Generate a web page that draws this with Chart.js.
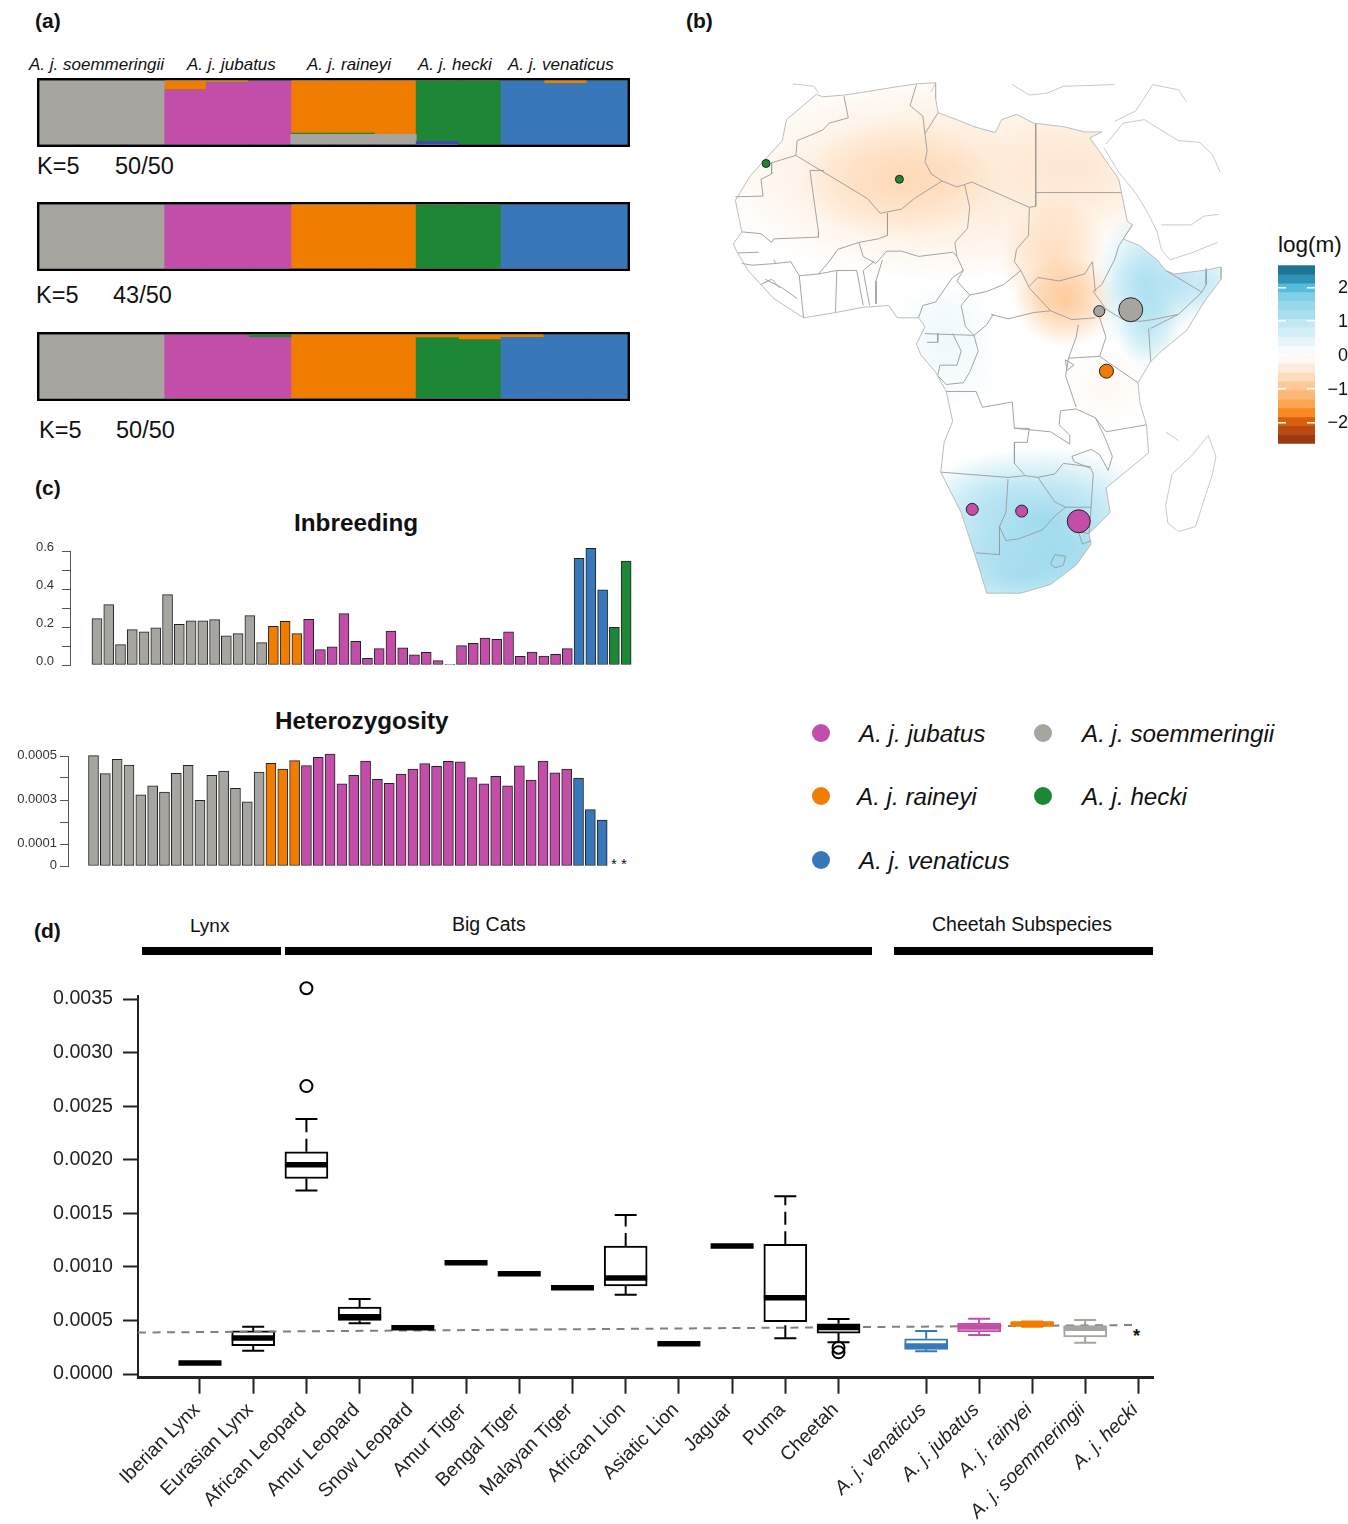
<!DOCTYPE html>
<html><head><meta charset="utf-8">
<script src="https://cdn.jsdelivr.net/npm/chart.js@4/dist/chart.umd.min.js"></script>
<style>
html,body{margin:0;padding:0;background:#fff}
body{position:relative;width:1348px;height:1524px;overflow:hidden;font-family:"Liberation Sans",Arial,sans-serif;color:#111}
canvas{position:absolute;display:block}
.t{position:absolute;white-space:nowrap;transform:translateY(-50%);line-height:1}
.bar,.dot{position:absolute}
.dot{border-radius:50%}
</style></head><body>
<script>
// ---------- colours
const GRAY='#a6a5a0',MAG='#c34ea9',ORG='#f07c00',GRN='#1e8735',BLU='#3878ba',DBL='#3a4cab';

// ---------- panel (a) structure plots: 14 sampled units
const unitPos=[21.2,63.5,105.8,148.2,190.5,232.8,274.8,316.5,358.2,400.2,442.8,485.5,528.5,571.5];
const run1Gray   =[1,1,1,0,0,0,.16,.16,.16,0,0,0,0,0];
const run1Magenta=[0,0,0,.85,.96,1,0,0,0,0,0,0,0,0];
const run1Orange =[0,0,0,.15,.04,0,.82,.82,.84,0,0,0,.05,0];
const run1Green  =[0,0,0,0,0,0,.02,.02,0,.95,1,0,0,0];
const run1Blue   =[0,0,0,0,0,0,0,0,0,0,0,1,.95,1];
const run1Navy   =[0,0,0,0,0,0,0,0,0,.05,0,0,0,0];
const run2Gray   =[1,1,1,0,0,0,0,0,0,0,0,0,0,0];
const run2Magenta=[0,0,0,1,1,1,0,0,0,0,0,0,0,0];
const run2Orange =[0,0,0,0,0,0,1,1,1,0,0,0,0,0];
const run2Green  =[0,0,0,0,0,0,0,0,0,1,1,0,0,0];
const run2Blue   =[0,0,0,0,0,0,0,0,0,0,0,1,1,1];
const run3Gray   =[1,1,1,0,0,0,0,0,0,0,0,0,0,0];
const run3Magenta=[0,0,0,1,1,.95,0,0,0,0,0,0,0,0];
const run3Orange =[0,0,0,0,0,0,1,1,1,.05,.08,.05,0,0];
const run3Green  =[0,0,0,0,0,.05,0,0,0,.95,.92,0,0,0];
const run3Blue   =[0,0,0,0,0,0,0,0,0,0,0,.95,1,1];

// ---------- panel (c)
const inbreedGray=[.244,.318,.107,.186,.175,.196,.37,.214,.233,.232,.239,.154,.165,.26,.118];
const inbreedOrange=[.204,.23,.165];
const inbreedMagenta=[.24,.081,.095,.27,.125,.035,.086,.179,.091,.053,.067,.023,.002,.102,.114,.142,.135,.175,.046,.068,.047,.056,.086];
const inbreedBlue=[.561,.614,.396];
const inbreedGreen=[.198,.547];
const hetGray=[.000502,.00042,.000485,.000459,.000323,.000364,.000336,.000421,.000458,.000298,.000412,.000432,.000353,.000292,.000427];
const hetOrange=[.000467,.000441,.000479];
const hetMagenta=[.000456,.000494,.000509,.000373,.000412,.000477,.000394,.000376,.000418,.000441,.000465,.000453,.000476,.000473,.000402,.000373,.000408,.000364,.000455,.000391,.000477,.000423,.000441];
const hetBlue=[.0004,.000256,.000209];

// ---------- panel (d)
const boxNames=['Iberian Lynx','Eurasian Lynx','African Leopard','Amur Leopard','Snow Leopard','Amur Tiger','Bengal Tiger','Malayan Tiger','African Lion','Asiatic Lion','Jaguar','Puma','Cheetah','A. j. venaticus','A. j. jubatus','A. j. rainyei','A. j. soemmeringii','A. j. hecki'];
const boxPos=[1,2,3,4,5,6,7,8,9,10,11,12,13,14.647,15.643,16.64,17.635,18.63];
const boxLow =[.000103,.000217,.001713,.000473,.000432,.001038,.000936,.000805,.00074,.000283,.001194,.000333,.000296,.000212,.000364,.00044,.000292,null];
const boxQ1  =[.000103,.000264,.001825,.0005,.000432,.001038,.000936,.000805,.000821,.000283,.001194,.000488,.000382,.00023,.000392,.00045,.000345,null];
const boxMed =[.000103,.000336,.001952,.000535,.000432,.001038,.000936,.000805,.000896,.000283,.001194,.000712,.000435,.000262,.000438,.000466,.000426,null];
const boxQ3  =[.000103,.000404,.002074,.000625,.000432,.001038,.000936,.000805,.001194,.000283,.001194,.00121,.000469,.000329,.000476,.00048,.00045,null];
const boxHigh=[.000103,.000441,.002379,.0007,.000432,.001038,.000936,.000805,.001483,.000283,.001194,.00166,.000513,.000401,.000516,.00049,.000504,null];
const boxColors=['#000','#000','#000','#000','#000','#000','#000','#000','#000','#000','#000','#000','#000',BLU,MAG,ORG,GRAY,GRAY];
const outlierPos=[3,3,13,13];
const outlierVal=[.0036,.002687,.000245,.000202];
const meanLineX=[-.165,18.55];
const meanLineY=[.000387,.000457];

// ---------- panel (b) colour key
const bandEdges=[2.65,2.39,2.12,1.86,1.6,1.33,1.07,.81,.54,.28,.01,-.25,-.52,-.78,-1.04,-1.31,-1.57,-1.84,-2.1,-2.36,-2.63];
const bandColors=['#1f7596','#3093b5','#55bddc','#82d0e8','#97d8ec','#a9e0f0','#c2e8f6','#d2eff9','#e6f5fb','#f6fbfd','#fff9f3','#fdecdb','#fddcbc','#fdc898','#fdb877','#fca552','#f78a22','#da5f0c','#b94a14','#9b3a12'];

// ---------- panel (b) samples (map units)
const sampleX=[984,1058,1001,686,802,936,202,515];
const sampleY=[716,712,887,1281,1286,1315,295,340];
const sampleSize=[5.5,12,7,6,6,11.5,4,4];
const sampleColor=[GRAY,GRAY,ORG,MAG,MAG,MAG,GRN,GRN];

// ---------- panel (b) estimated surface
const blobX =[620,510,960,880,905,1090,1160,1100,850,800,700,620,640,1000,930,1230];
const blobY =[330,340,300,570,690,640,640,770,1310,1470,1290,760,880,930,1400,640];
const blobRX=[560,230,200,130,120,115,160,70,290,300,150,130,120,110,130,90];
const blobRY=[300,170,220,180,130,220,130,120,210,150,170,130,120,120,120,90];
const blobHot=[1,1,1,1,1,0,0,0,0,0,0,0,0,1,0,0];
const blobA =[.38,.38,.22,.5,.75,.6,.42,.35,.85,.75,.25,.14,.1,.1,.35,.3];

// ---------- panel (b) outlines (map units)
const coast=[320,98,335,105,385,100,440,90,500,78,555,68,600,65,600,110,606,150,650,170,690,190,740,207,755,170,790,155,830,180,900,190,950,205,990,205,962,222,990,270,1030,340,1040,400,1050,460,1062,470,1040,510,1080,530,1120,570,1140,600,1160,610,1230,600,1270,590,1270,625,1230,690,1190,770,1130,830,1105,860,1075,920,1080,980,1095,1040,1100,1120,1050,1170,1000,1220,1010,1290,960,1350,965,1380,930,1440,870,1495,800,1520,720,1520,700,1440,660,1290,612,1175,620,1090,640,1030,625,945,600,890,565,840,555,810,575,760,560,735,510,735,490,700,430,705,365,720,290,735,220,680,160,600,135,550,125,525,145,490,130,400,165,330,240,230,250,170];
const madagascar=[1240,1070,1258,1130,1250,1180,1210,1330,1170,1345,1145,1320,1140,1270,1155,1180,1200,1130,1240,1070];
const arabia=[[995,250,1030,320,1070,380,1100,440,1120,490,1130,540,1150,570,1200,550,1262,520],[1130,470,1200,470,1230,445,1265,440],[1000,240,1040,180,1090,170,1170,230,1220,235,1250,270,1268,320],[1020,175,1070,145,1110,70,1170,85,1190,120],[780,70,820,100,860,95,900,75,1020,70],[265,68,315,75,325,95],[1140,1060,1170,1085],[600,65,590,90]];
const borders=[
[385,103,395,165,350,180,335,200,275,230,272,272,215,293,215,325,190,340,195,388,130,390],[272,272,440,395,470,437,520,425,550,395,615,345,650,362,668,355,685,348,820,420],
[305,315,338,315],[305,315,325,490,325,505,220,510,215,520,190,495,145,490],
[555,70,540,130,570,160,575,210,580,260,575,290,590,325,615,345],[606,150,575,210],
[835,180,835,417,820,420,818,500,790,540,785,575,800,600,820,650],[835,378,1035,378],
[820,645,840,620,890,630,950,610,968,575,975,660],[1062,470,1030,530,1020,570,990,640,970,660,1000,710],
[668,355,680,420,675,480,645,520,650,560,665,600,650,630,680,670,720,660,760,640,800,600],[680,670,660,700,670,760,690,785],
[730,725,770,738,830,720,870,715,920,740,975,735],[820,650,870,715],[935,755,930,790,912,850,905,900,930,990],
[1000,710,985,735,1000,790,985,845,1075,920],[912,850,985,845],[1000,710,1040,740,1080,745,1110,740,1170,725],[1100,765,1105,860],
[1140,600,1225,662,1170,725,1105,765],[1235,595,1235,640,1225,662],
[487,437,487,500,465,510,420,520,370,540,350,575,325,610],[420,520,430,560,460,580,485,545,520,545,560,560,640,548,650,560],
[475,570,460,630,460,695],[430,600,445,700],[415,600,430,700],[368,600,415,600],[368,600,365,720],[325,610,368,600],[455,575,430,600],
[280,615,325,610],[280,615,290,735],[200,625,240,650,275,680],[190,640,215,625,235,650],[220,570,225,580,260,575,280,615],[135,550,185,548],[145,580,170,585,225,580],
[665,600,640,620,600,690,570,700,560,735],[575,780,690,785],[605,780,605,805,580,805],[640,780,660,830,650,870,610,870,605,900,625,925],
[690,785,720,755,735,725],[690,785,700,830,680,890,665,920,625,925],
[625,945,695,945,710,990,780,975,785,1050,820,1050,815,1090,785,1090,785,1150,810,1185,770,1190,612,1175],
[785,1050,870,1060,915,1095,915,1070,890,1040,893,1000,930,995,975,1020,1000,1060,1095,1040],
[975,1020,995,1070,1015,1130,1005,1170,985,1125,965,1110,920,1130,925,1145,965,1165,970,1180,965,1275,960,1350,935,1345,945,1380,965,1370],
[810,1185,840,1190,880,1180,900,1150,965,1160],[770,1195,765,1290,750,1330,750,1410,695,1405],
[750,1330,765,1370,795,1365,850,1340,880,1300,905,1275,965,1275],[840,1190,880,1260,905,1275],
[880,1410,905,1415,900,1440,880,1448,870,1435,880,1410],[905,855,925,870,908,885,905,855]];

// ---------- page text
const texts=[
['(a)',35,20,21,'bold'],['(b)',686,20,21,'bold'],['(c)',35,487,21,'bold'],['(d)',34,930,21,'bold'],
['A. j. soemmeringii',29,64,17,'italic'],['A. j. jubatus',187,64,17,'italic'],['A. j. raineyi',307,64,17,'italic'],['A. j. hecki',418,64,17,'italic'],['A. j. venaticus',508,64,17,'italic'],
['K=5',37,167,23.5,''],['50/50',115,167,23.5,''],['K=5',36,296,23.5,''],['43/50',113,296,23.5,''],['K=5',39,431,23.5,''],['50/50',116,431,23.5,''],
['Inbreeding',294,523,24.3,'bold'],['Heterozygosity',275,721,24.2,'bold'],['* *',611,863,15,''],
['Lynx',190,925,19,''],['Big Cats',452,925,19.5,''],['Cheetah Subspecies',932,925,19.5,''],['*',1133,1336,18,'bold'],
['log(m)',1278,245,22.5,''],
['A. j. jubatus',859,734,24.2,'italic'],['A. j. soemmeringii',1082,734,24.2,'italic'],['A. j. raineyi',857,797,24.2,'italic'],['A. j. hecki',1082,797,24.2,'italic'],['A. j. venaticus',859,861,24.2,'italic']];
const legendDots=[[821,733,MAG],[1043,733,GRAY],[821,796,ORG],[1043,796,GRN],[821,860,BLU]];
const headerBars=[[142,281],[285,872],[894,1153]];

for(const [s,x,y,size,st] of texts){
  const d=document.createElement('div');d.className='t';d.textContent=s;
  d.style.left=x+'px';d.style.top=y+'px';d.style.fontSize=size+'px';
  if(st==='bold')d.style.fontWeight='bold';if(st==='italic')d.style.fontStyle='italic';
  document.body.appendChild(d);
}
for(const [x,y,c] of legendDots){
  const d=document.createElement('div');d.className='dot';
  Object.assign(d.style,{left:(x-9)+'px',top:(y-9)+'px',width:'18px',height:'18px',background:c});
  document.body.appendChild(d);
}
for(const [a,b] of headerBars){
  const d=document.createElement('div');d.className='bar';
  Object.assign(d.style,{left:a+'px',top:'947px',width:(b-a)+'px',height:'8px',background:'#000'});
  document.body.appendChild(d);
}
function cv(l,t,w,h){
  const c=document.createElement('canvas');c.width=w;c.height=h;
  c.style.left=l+'px';c.style.top=t+'px';c.style.width=w+'px';c.style.height=h+'px';
  document.body.appendChild(c);return c.getContext('2d');
}
Chart.defaults.font.family='"Liberation Sans",Arial,sans-serif';
Chart.defaults.animation=false;
Chart.defaults.responsive=false;
Chart.defaults.devicePixelRatio=1;
Chart.defaults.plugins.legend.display=false;
Chart.defaults.plugins.tooltip.enabled=false;
Chart.defaults.events=[];
Chart.defaults.layout.autoPadding=false;
const noPad=s=>{s.paddingTop=s.paddingBottom=s.paddingLeft=s.paddingRight=0;};

// ---------- (a)
const framePlugin={id:'frame',afterDraw(ch){const a=ch.chartArea,c=ch.ctx;c.save();c.strokeStyle='#000';c.lineWidth=2.4;c.strokeRect(a.left+1.2,a.top-1.2,a.width-2.4,a.height+2.4);c.restore();}};
function structure(top,series){
  new Chart(cv(37,top,593,69),{type:'bar',plugins:[framePlugin],
    data:{datasets:series.map(([d,c])=>({data:d.map((v,i)=>({x:unitPos[i],y:v})),backgroundColor:c,borderColor:c,borderWidth:0,inflateAmount:.4,barThickness:'flex',barPercentage:1,categoryPercentage:1}))},
    options:{layout:{padding:{top:2.4,bottom:2.4}},scales:{x:{type:'linear',display:false,stacked:true,offset:false,min:0,max:593},y:{display:false,stacked:true,min:0,max:1}}}});
}
structure(78,[[run1Navy,DBL],[run1Gray,GRAY],[run1Magenta,MAG],[run1Blue,BLU],[run1Green,GRN],[run1Orange,ORG]]);
structure(202,[[run2Gray,GRAY],[run2Magenta,MAG],[run2Blue,BLU],[run2Green,GRN],[run2Orange,ORG]]);
structure(332,[[run3Gray,GRAY],[run3Magenta,MAG],[run3Blue,BLU],[run3Green,GRN],[run3Orange,ORG]]);

// ---------- (c)
function fill(groups){return groups.flatMap(([a,c])=>a.map(()=>c));}
function barPanel(o){
  const pad=10;
  new Chart(cv(0,o.top-pad,o.right,o.bottom-o.top+2*pad),{type:'bar',
    data:{datasets:[{data:o.values.map((v,i)=>({x:i,y:v})),backgroundColor:o.colors,borderColor:'#222',borderWidth:1,borderSkipped:false,barThickness:10,clip:false}]},
    options:{layout:{padding:{top:pad,bottom:pad}},scales:{
      x:{type:'linear',display:false,offset:false,min:o.xmin,max:o.xmax},
      y:{min:0,max:o.ymax,afterFit:s=>{s.width=o.axisX;noPad(s);},
         border:{color:'#555',width:1},
         grid:{drawOnChartArea:false,color:'#555',tickLength:o.tick,tickWidth:1},
         ticks:{stepSize:o.step,color:'#333',font:{size:13},padding:o.labelPad,labelOffset:o.labelOffset,autoSkip:false,callback:o.fmt}}}}});
}
barPanel({top:550.7,bottom:664.7,right:632,axisX:70.6,xmin:-2.245,xmax:45.5,ymax:.6,step:.1,tick:8.6,labelPad:8,labelOffset:-4,
  values:[...inbreedGray,...inbreedOrange,...inbreedMagenta,...inbreedBlue,...inbreedGreen],
  colors:fill([[inbreedGray,GRAY],[inbreedOrange,ORG],[inbreedMagenta,MAG],[inbreedBlue,BLU],[inbreedGreen,GRN]]),
  fmt:v=>{const k=Math.round(v*10);return k%2===0?(k/10).toFixed(1):'';}});
barPanel({top:756.3,bottom:866.3,right:612,axisX:68.3,xmin:-2.13,xmax:43.83,ymax:.0005,step:.0001,tick:8.3,labelPad:3,labelOffset:-1,
  values:[...hetGray,...hetOrange,...hetMagenta,...hetBlue],
  colors:fill([[hetGray,GRAY],[hetOrange,ORG],[hetMagenta,MAG],[hetBlue,BLU]]),
  fmt:v=>{const k=Math.round(v*1e4);return k===0?'0':(k%2===1?(k/1e4).toFixed(4):'');}});

// ---------- (b) map
function pts(f){const r=[];for(let i=0;i<f.length;i+=2)r.push({x:f[i],y:f[i+1]});return r;}
const surfacePlugin={id:'surface',beforeDatasetsDraw(ch){
  const c=ch.ctx,X=ch.scales.x,Y=ch.scales.y;
  c.save();c.beginPath();
  pts(coast).forEach((p,i)=>{const a=X.getPixelForValue(p.x),b=Y.getPixelForValue(p.y);i?c.lineTo(a,b):c.moveTo(a,b);});
  c.closePath();c.clip();
  blobX.forEach((bx,i)=>{
    const px=X.getPixelForValue(bx),py=Y.getPixelForValue(blobY[i]);
    const rx=Math.abs(X.getPixelForValue(bx+blobRX[i])-px),ry=Math.abs(Y.getPixelForValue(blobY[i]+blobRY[i])-py);
    const rgb=blobHot[i]?'253,190,130':'140,212,235',A=blobA[i];
    c.save();c.translate(px,py);c.scale(rx,ry);
    const g=c.createRadialGradient(0,0,0,0,0,1);
    g.addColorStop(0,`rgba(${rgb},${A})`);g.addColorStop(.5,`rgba(${rgb},${A*.6})`);g.addColorStop(1,`rgba(${rgb},0)`);
    c.fillStyle=g;c.fillRect(-1,-1,2,2);c.restore();
  });
  c.restore();
}};
const borderPts=borders.flatMap(b=>[...pts(b),{x:null,y:null}]);
const arabiaPts=arabia.flatMap(b=>[...pts(b),{x:null,y:null}]);
const lineDs=(data,color,w)=>({type:'line',data,borderColor:color,borderWidth:w,pointRadius:0,spanGaps:false,fill:false,tension:0});
new Chart(cv(680,60,668,550),{type:'scatter',plugins:[surfacePlugin],
  data:{datasets:[
    {...lineDs(borderPts,'#9a9a9a',.9),order:4},
    {...lineDs([...pts(coast),{x:coast[0],y:coast[1]}],'#b5b5b5',.9),order:3},
    {...lineDs(pts(madagascar),'#bdbdbd',.8),order:3},
    {...lineDs(arabiaPts,'#bdbdbd',.8),order:3},
    {type:'scatter',order:1,data:sampleX.map((x,i)=>({x,y:sampleY[i]})),backgroundColor:sampleColor,borderColor:'#222',borderWidth:1,pointRadius:sampleSize}
  ]},
  options:{layout:{padding:0},scales:{x:{display:false,min:0,max:1568},y:{display:false,min:0,max:1568,reverse:true}}}});

// ---------- (b) colour key
new Chart(cv(1278,255,70,200),{type:'bar',
  data:{labels:['log(m)'],datasets:bandColors.map((c,i)=>({data:[[bandEdges[i+1],bandEdges[i]]],backgroundColor:c,borderWidth:0,barPercentage:1,categoryPercentage:1,grouped:false}))},
  options:{layout:{padding:{top:10.3,bottom:11.3,right:0}},scales:{
    x:{display:false},
    y:{position:'right',min:-2.63,max:2.65,afterFit:s=>{s.width=33;noPad(s);},
       border:{display:false,dash:[8,21]},
       grid:{color:'#fff',lineWidth:1.5,drawTicks:false,z:1},
       ticks:{stepSize:1,includeBounds:false,crossAlign:'far',padding:8,labelOffset:1,color:'#111',font:{size:18},callback:v=>v<0?'\u2212'+Math.abs(v):String(v)}}}}});

// ---------- (d) box plots
const boxIdx=boxNames.map((_,i)=>i).filter(i=>boxQ1[i]!==null);
const whiskers=[];
boxIdx.forEach(i=>{
  if(boxHigh[i]>boxQ3[i])whiskers.push({type:'line',order:5,data:[{x:boxPos[i],y:boxQ3[i]},{x:boxPos[i],y:boxHigh[i]}],borderColor:boxColors[i],borderWidth:2,borderDash:[13,6.5],pointRadius:0});
  if(boxLow[i]<boxQ1[i])whiskers.push({type:'line',order:5,data:[{x:boxPos[i],y:boxLow[i]},{x:boxPos[i],y:boxQ1[i]}],borderColor:boxColors[i],borderWidth:2,borderDash:[13,6.5],pointRadius:0});
});
const capData=[...boxIdx.filter(i=>boxHigh[i]>boxQ3[i]).map(i=>[i,boxHigh[i]]),...boxIdx.filter(i=>boxLow[i]<boxQ1[i]).map(i=>[i,boxLow[i]])];
new Chart(cv(0,970,1160,554),{type:'bar',
  data:{datasets:[
    {type:'line',order:1,label:'outliers',clip:false,showLine:false,data:outlierPos.map((x,i)=>({x,y:outlierVal[i]})),pointStyle:'circle',pointRadius:6,pointBorderWidth:2,pointBorderColor:'#000',pointBackgroundColor:'rgba(255,255,255,0)'},
    {type:'line',order:2,label:'medians',showLine:false,data:boxIdx.map(i=>({x:boxPos[i],y:boxMed[i]})),pointStyle:'line',pointRadius:21.5,pointBorderWidth:5.5,pointBorderColor:boxIdx.map(i=>boxColors[i])},
    {type:'line',order:3,label:'caps',showLine:false,data:capData.map(([i,v])=>({x:boxPos[i],y:v})),pointStyle:'line',pointRadius:11,pointBorderWidth:2,pointBorderColor:capData.map(([i])=>boxColors[i])},
    {type:'line',order:4,label:'genome mean',data:meanLineX.map((x,i)=>({x,y:meanLineY[i]})),borderColor:'#808080',borderWidth:2,borderDash:[8,6.5],pointRadius:0},
    ...whiskers,
    {type:'bar',order:6,label:'boxes',data:boxIdx.map(i=>({x:boxPos[i],y:[boxQ1[i],boxQ3[i]]})),backgroundColor:'#fff',borderColor:boxIdx.map(i=>boxColors[i]),borderWidth:2,borderSkipped:false,barThickness:43}
  ]},
  options:{layout:{padding:{top:25.8,right:7}},scales:{
    x:{type:'linear',offset:false,min:-.165,max:18.91,afterFit:s=>{s.height=146.3;noPad(s);},
       afterBuildTicks:s=>{s.ticks=boxPos.map(v=>({value:v}));},
       border:{color:'#222',width:3},
       grid:{offset:false,drawOnChartArea:false,color:'#222',tickLength:16,tickWidth:2},
       ticks:{autoSkip:false,minRotation:45,maxRotation:45,padding:5,labelOffset:-3,color:'#222',
         font:c=>({size:19.3,style:c.index>=13?'italic':'normal'}),
         callback:(v,i)=>boxNames[i]}},
    y:{min:-.0000345,max:.00353,afterFit:s=>{s.width=138;noPad(s);},
       border:{color:'#222',width:2},
       grid:{drawOnChartArea:false,color:'#222',tickLength:15,tickWidth:2},
       ticks:{stepSize:.0005,includeBounds:false,padding:10,color:'#222',font:{size:19.6},callback:v=>Math.abs(v)<1e-9?'0.0000':v.toFixed(4)}}}}});
</script>
</body></html>
